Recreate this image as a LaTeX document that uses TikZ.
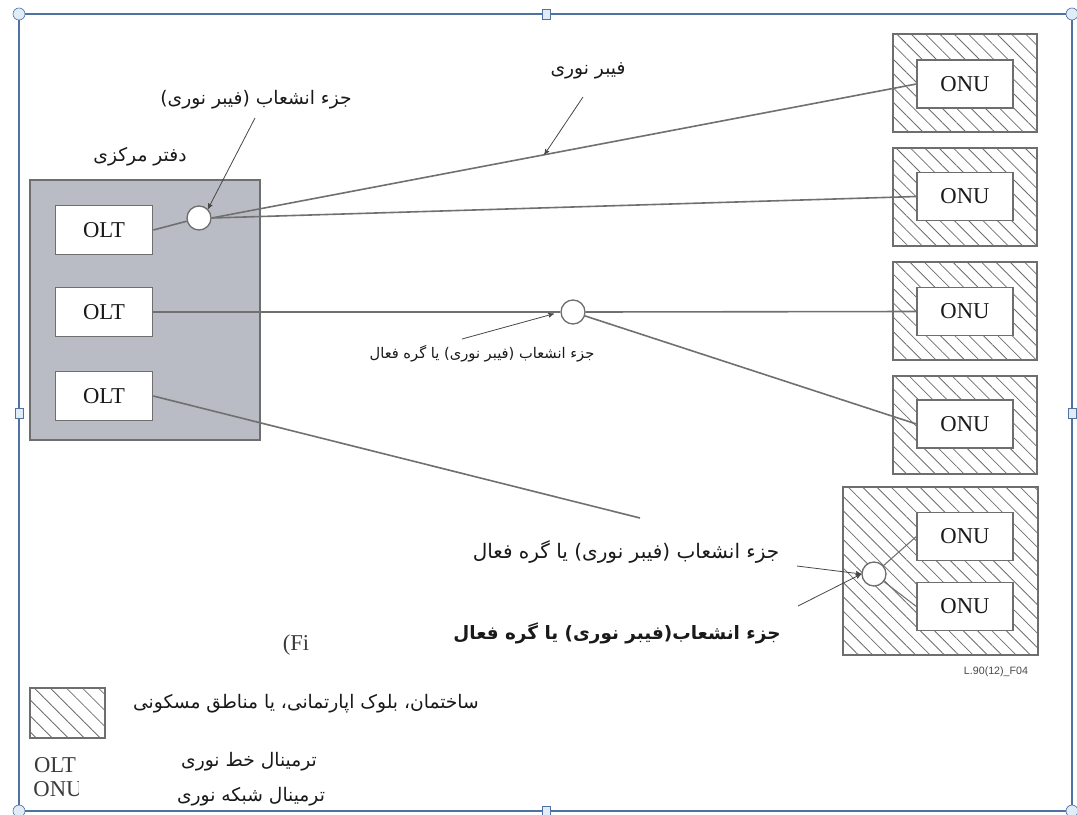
\documentclass[tikz,border=0pt]{standalone}
\usepackage{fontspec}
\setmainfont{Liberation Serif}
\newfontfamily\arabicfont[Script=Arabic]{DejaVu Sans}
\newfontfamily\figfont{Liberation Sans}
\TeXXeTstate=1
\usetikzlibrary{arrows}
\usetikzlibrary{patterns.meta}
\definecolor{frameblue}{RGB}{79, 113, 163}
\definecolor{handlefill}{RGB}{225, 236, 247}
\definecolor{officegrey}{RGB}{185, 188, 196}
\definecolor{edgegrey}{RGB}{110, 110, 110}
\definecolor{fibregrey}{RGB}{112, 112, 112}
\definecolor{textgrey}{RGB}{25, 25, 25}

\begin{document}
\begin{tikzpicture}[x=0.75pt, y=-0.75pt, >=stealth',
    office/.style={draw=edgegrey, fill=officegrey, line width=1pt, minimum width=172.5pt, minimum height=195pt},
    olt/.style={draw=edgegrey, fill=white, line width=1pt, minimum width=73pt, minimum height=37pt, inner sep=0pt, font=\fontsize{17}{17}\selectfont, text=textgrey},
    onu/.style={olt, minimum width=72pt, minimum height=36pt},
    house/.style={draw=edgegrey, line width=1.1pt, minimum width=108pt, minimum height=73.5pt, pattern={Lines[angle=-45, distance=7.6pt, line width=0.6pt]}, pattern color=edgegrey},
    splitter/.style={circle, draw=edgegrey, fill=white, line width=1pt, minimum size=18pt, inner sep=0pt},
    fibre/.style={fibregrey, line width=1.2pt},
    pointer/.style={->, textgrey!80, line width=0.6pt},
    falabel/.style={font=\arabicfont\fontsize{14}{16}\selectfont, text=textgrey, inner sep=0pt},
    handle/.style={draw=frameblue, fill=handlefill, line width=0.5pt}]
    \useasboundingbox (0,0) rectangle (1077,814);

    % selection frame
    \draw[frameblue, line width=1.1pt] (19,14) rectangle (1072,811);
    \foreach \hx/\hy in {19/14, 1072/14, 19/811, 1072/811}
        \draw[handle] (\hx,\hy) circle (4.5pt);
    \foreach \hx/\hy in {546/14, 546/811, 19/413, 1072/413}
        \draw[handle] (\hx-4,\hy-5) rectangle (\hx+4,\hy+5);

    % central office
    \node[office] (office) at (145,310) {};
    \node[olt] (olt1) at (104,230) {OLT};
    \node[olt] (olt2) at (104,312) {OLT};
    \node[olt] (olt3) at (104,396) {OLT};

    % buildings
    \node[house] (house1) at (965,83) {};
    \node[house] (house2) at (965,197) {};
    \node[house] (house3) at (965,311) {};
    \node[house] (house4) at (965,425) {};
    \node[house, minimum width=146pt, minimum height=126pt] (house5) at (940.5,571) {};
    \node[onu] (onu1) at (965,84) {ONU};
    \node[onu] (onu2) at (965,196.5) {ONU};
    \node[onu] (onu3) at (965,311.5) {ONU};
    \node[onu] (onu4) at (965,424) {ONU};
    \node[onu] (onu5a) at (965,536.5) {ONU};
    \node[onu] (onu5b) at (965,606.5) {ONU};

    % splitters
    \node[splitter] (split1) at (199,218) {};
    \node[splitter] (split2) at (573,312) {};
    \node[splitter] (split3) at (874,574) {};

    % fibres
    \coordinate (cut) at (640,518);
    \draw[fibre] (olt1.east) -- (split1);
    \draw[fibre] (split1.east) -- (onu1.west) coordinate[pos=0.472] (fibrept);
    \draw[fibre] (split1.east) -- (onu2.west);
    \draw[fibre] (olt2.east) -- (split2.west);
    \draw[fibre] (split2.east) -- (onu3.west);
    \draw[fibre] (split2) -- (onu4.west);
    \draw[fibre] (olt3.east) -- (cut);
    \draw[fibre, line width=0.8pt] (split3) -- (onu5a.west);
    \draw[fibre, line width=0.8pt] (split3) -- (onu5b.west);

    % labels
    \node[falabel] (officelbl) at (140,157) {\beginR دفتر مرکزی\endR};
    \node[falabel] (tap1lbl) at (256,100) {\beginR جزء انشعاب (فیبر نوری)\endR};
    \node[falabel] (fibrelbl) at (588,71) {\beginR فیبر نوری\endR};
    \node[falabel, font=\arabicfont\fontsize{11}{13}\selectfont] (tap2lbl) at (482,354) {\beginR جزء انشعاب (فیبر نوری) یا گره فعال\endR};
    \node[falabel, font=\arabicfont\fontsize{15}{17}\selectfont] (tap3lbl) at (626,552) {\beginR جزء انشعاب (فیبر نوری) یا گره فعال\endR};
    \node[falabel, font=\arabicfont\bfseries\fontsize{13.8}{16}\selectfont] (tap4lbl) at (617,633) {\beginR جزء انشعاب(فیبر نوری) یا گره فعال\endR};

    \coordinate (p1) at (255,118);
    \coordinate (p2) at (583,97);
    \coordinate (p3) at (462,339);
    \coordinate (p4) at (797,566);
    \coordinate (p5) at (798,606);
    \draw[pointer] (p1) -- (split1.north east);
    \draw[pointer] (p2) -- (fibrept);
    \draw[pointer, shorten >=5pt] (p3) -- (split2.west);
    \draw[pointer] (p4) -- (split3.west);
    \draw[pointer] (p5) -- (split3.west);

    \node[text=textgrey!85, font=\fontsize{17}{17}\selectfont] (figtag) at (296,645) {(Fi};
    \node[text=textgrey!80, font=\figfont\fontsize{8}{8}\selectfont] (figref) at (996,672) {L.90(12)\_F04};

    % legend
    \node[house, minimum width=56pt, minimum height=37.5pt, pattern={Lines[angle=-45, distance=8.5pt, line width=0.6pt]}] (legendhouse) at (67.5,713) {};
    \node[falabel] (houselbl) at (306,704) {\beginR ساختمان، بلوک اپارتمانی، یا مناطق مسکونی\endR};
    \node[text=textgrey!85, font=\fontsize{17}{17}\selectfont, inner sep=0pt] (legendolt) at (55,765) {OLT};
    \begin{scope}
        \clip (20,775) rectangle (78,805);
        \node[text=textgrey!85, font=\fontsize{17}{17}\selectfont, inner sep=0pt] (legendonu) at (58,789) {ONU};
    \end{scope}
    \node[falabel] (oltlbl) at (249,762) {\beginR ترمینال خط نوری\endR};
    \node[falabel] (onulbl) at (251,797) {\beginR ترمینال شبکه نوری\endR};
\end{tikzpicture}
\end{document}
